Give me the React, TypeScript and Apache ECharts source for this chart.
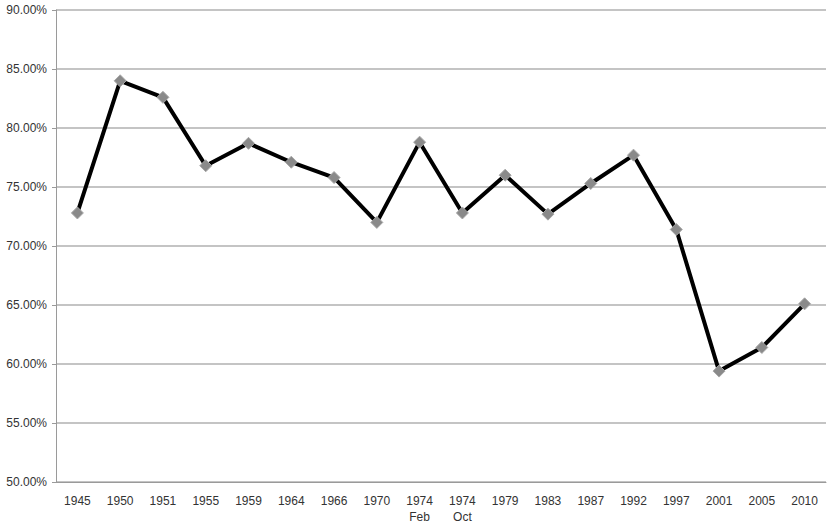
import React, { useEffect, useRef } from "react";
import * as echarts from "echarts";

const categories = [
  "1945", "1950", "1951", "1955", "1959", "1964", "1966", "1970",
  "1974\nFeb", "1974\nOct", "1979", "1983", "1987", "1992", "1997",
  "2001", "2005", "2010",
];
const turnout = [
  72.8, 84.0, 82.6, 76.8, 78.7, 77.1, 75.8, 72.0,
  78.8, 72.8, 76.0, 72.7, 75.3, 77.7, 71.4, 59.4, 61.4, 65.1,
];
const yMin = 50;
const yMax = 90;
const yStep = 5;

export default function App() {
  const ref = useRef<HTMLDivElement>(null);
  useEffect(() => {
    if (!ref.current) return;
    const chart = echarts.init(ref.current, undefined, { renderer: "svg" });
    chart.setOption({
      animation: false,
      backgroundColor: "#ffffff",
      textStyle: { fontFamily: "Liberation Sans" },
      grid: { left: 56, right: 10, top: 10, bottom: 45, containLabel: false },
      xAxis: {
        type: "category",
        data: categories,
        boundaryGap: true,
        axisLine: { show: true, lineStyle: { color: "#9a9a9a", width: 1 } },
        axisTick: { show: false },
        axisLabel: {
          color: "#333",
          fontSize: 12,
          margin: 11,
          lineHeight: 16,
          interval: 0,
        },
        splitLine: { show: false },
      },
      yAxis: {
        type: "value",
        min: yMin,
        max: yMax,
        interval: yStep,
        axisLine: { show: true, lineStyle: { color: "#9a9a9a", width: 1 } },
        axisTick: { show: true, length: 4, lineStyle: { color: "#9a9a9a" } },
        axisLabel: {
          color: "#333",
          fontSize: 12,
          margin: 9,
          formatter: (v: number) => v.toFixed(2) + "%",
        },
        splitLine: { show: true, lineStyle: { color: "#c4c4c4", width: 2 } },
      },
      series: [
        {
          type: "line",
          data: turnout,
          symbol: "diamond",
          symbolSize: 12,
          lineStyle: { color: "#000", width: 4 },
          itemStyle: { color: "#8a8a8a", borderColor: "#a8a8a8", borderWidth: 1 },
          z: 3,
        },
      ],
    });
    return () => chart.dispose();
  }, []);
  return (
    <div
      ref={ref}
      style={{ position: "fixed", left: 0, top: 0, width: 836, height: 527 }}
    />
  );
}
